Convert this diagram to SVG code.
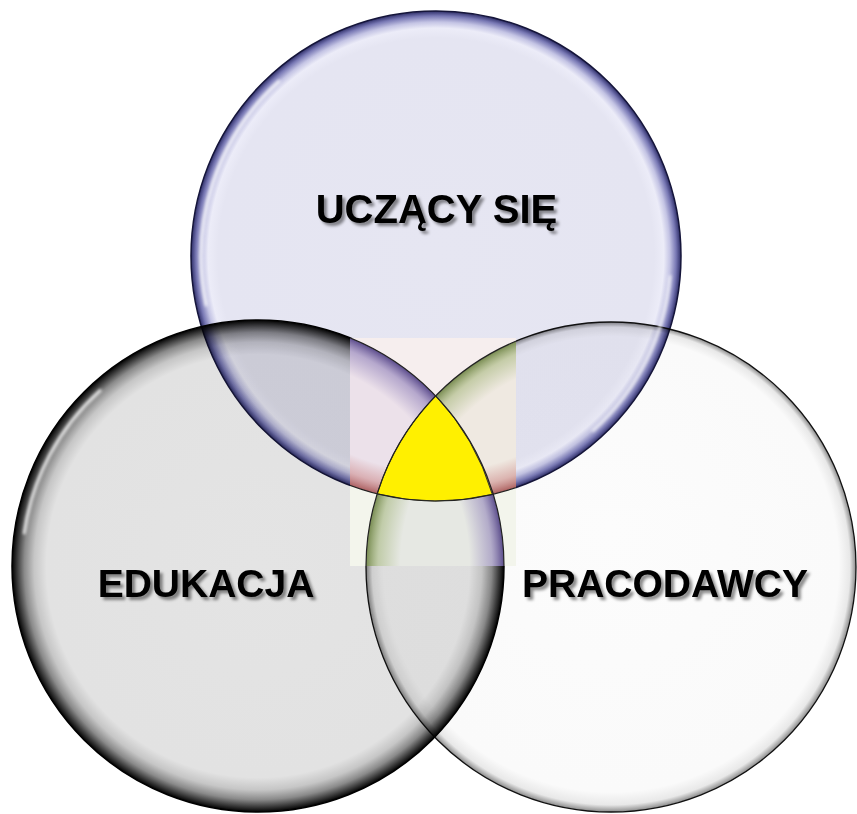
<svg xmlns="http://www.w3.org/2000/svg" width="857" height="814" viewBox="0 0 857 814">
<style>
.lbl{font-family:"Liberation Sans",Arial,Helvetica,sans-serif;font-weight:bold;fill:#000;text-anchor:middle;filter:url(#ts)}
.mul{mix-blend-mode:multiply}
.hl{fill:none;stroke:#ffffff;stroke-linecap:round;filter:url(#blur)}
.edge{fill:none;stroke:#222;stroke-width:1.2}
</style>
<defs>
<radialGradient id="gTop">
<stop offset="0" stop-color="#e6e6f2"/>
<stop offset="0.89" stop-color="#e5e5f2"/>
<stop offset="0.93" stop-color="#ececf8"/>
<stop offset="0.955" stop-color="#c4c4e4"/>
<stop offset="0.98" stop-color="#7878b4"/>
<stop offset="1" stop-color="#2c2c66"/>
</radialGradient>
<radialGradient id="gLeft">
<stop offset="0" stop-color="#e4e4e4"/>
<stop offset="0.86" stop-color="#e2e2e2"/>
<stop offset="0.91" stop-color="#c6c6c6"/>
<stop offset="0.95" stop-color="#8a8a8a"/>
<stop offset="0.985" stop-color="#2a2a2a"/>
<stop offset="1" stop-color="#000"/>
</radialGradient>
<radialGradient id="gRight" fx="0.5" fy="0.42">
<stop offset="0" stop-color="#fcfcfc"/>
<stop offset="0.93" stop-color="#fafafa"/>
<stop offset="0.975" stop-color="#e8e8e8"/>
<stop offset="1" stop-color="#8a8a8a"/>
</radialGradient>
<radialGradient id="rimPurple">
<stop offset="0.86" stop-color="#8070b0" stop-opacity="0"/>
<stop offset="0.95" stop-color="#8070b0" stop-opacity="0.5"/>
<stop offset="1" stop-color="#4a3a80" stop-opacity="0.9"/>
</radialGradient>
<radialGradient id="rimGreen">
<stop offset="0.86" stop-color="#9cb070" stop-opacity="0"/>
<stop offset="0.95" stop-color="#9cb070" stop-opacity="0.5"/>
<stop offset="1" stop-color="#6a8040" stop-opacity="0.9"/>
</radialGradient>
<radialGradient id="rimRed">
<stop offset="0.88" stop-color="#c88080" stop-opacity="0"/>
<stop offset="0.95" stop-color="#c88080" stop-opacity="0.5"/>
<stop offset="1" stop-color="#a04848" stop-opacity="0.85"/>
</radialGradient>
<clipPath id="cpRect"><rect x="350" y="338" width="166" height="228"/></clipPath>
<clipPath id="cpTop"><circle cx="436" cy="256" r="245"/></clipPath>
<clipPath id="cpLeft"><circle cx="258" cy="566" r="246"/></clipPath>
<filter id="ts" x="-10%" y="-40%" width="125%" height="190%">
<feGaussianBlur in="SourceAlpha" stdDeviation="1.6"/>
<feOffset dx="2.5" dy="3" result="b"/>
<feFlood flood-color="#000" flood-opacity="0.45"/>
<feComposite in2="b" operator="in"/>
<feMerge><feMergeNode/><feMergeNode in="SourceGraphic"/></feMerge>
</filter>
<filter id="blur" x="-20%" y="-20%" width="140%" height="140%"><feGaussianBlur stdDeviation="1.4"/></filter>
</defs>
<rect width="857" height="814" fill="#fff"/>
<g id="node-edukacja">
<circle class="mul" cx="258" cy="566" r="246" fill="url(#gLeft)" stroke="#000" stroke-width="1.5"/>
</g>
<g id="node-uczacy">
<circle class="mul" cx="436" cy="256" r="245" fill="url(#gTop)" stroke="#15153a" stroke-width="1.5"/>
</g>
<g id="node-pracodawcy">
<circle class="mul" cx="611" cy="567" r="245" fill="url(#gRight)" stroke="#111" stroke-width="1.3"/>
</g>
<g id="highlights">
<path class="hl" d="M 24.3 533.1 A 236 236 0 0 1 100.1 390.6" stroke-width="3" opacity="0.85"/>
<path class="hl" d="M 206.1 304.9 A 235 235 0 0 1 278.8 81.4" stroke-width="3" opacity="0.8"/>
<path class="hl" d="M 670.1 276.5 A 235 235 0 0 1 593.2 430.6" stroke-width="3" opacity="0.7"/>
</g>
<g id="center-overlap" clip-path="url(#cpRect)">
<rect x="350" y="338" width="166" height="228" fill="#f3f5ec"/>
<circle cx="436" cy="256" r="245" fill="#f6eeee"/>
<g clip-path="url(#cpTop)">
<circle cx="258" cy="566" r="246" fill="#ece1ea"/>
<circle cx="611" cy="567" r="245" fill="#efe9e1"/>
</g>
<g clip-path="url(#cpLeft)">
<circle cx="611" cy="567" r="245" fill="#e6e8e3"/>
</g>
<circle cx="258" cy="566" r="246" fill="url(#rimPurple)"/>
<circle cx="611" cy="567" r="245" fill="url(#rimGreen)"/>
<circle cx="436" cy="256" r="245" fill="url(#rimRed)"/>
<path d="M 435.7 395.9 A 245 245 0 0 0 377.2 493.8 A 245 245 0 0 0 492.3 494.4 A 246 246 0 0 0 435.7 395.9 Z" fill="#fff000" stroke="#3a3a20" stroke-width="1"/>
<circle class="edge" cx="258" cy="566" r="246"/>
<circle class="edge" cx="611" cy="567" r="245"/>
<circle class="edge" cx="436" cy="256" r="245"/>
</g>
<g id="connectors"/>
<g id="labels">
<text class="lbl" x="436.5" y="223" font-size="40">UCZĄCY SIĘ</text>
<text class="lbl" x="206" y="597" font-size="39">EDUKACJA</text>
<text class="lbl" x="665" y="597" font-size="39">PRACODAWCY</text>
</g>
</svg>
